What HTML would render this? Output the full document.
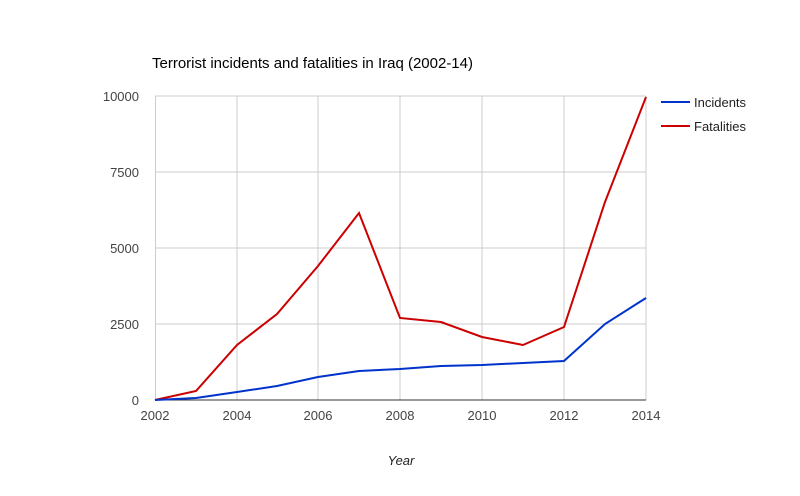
<!DOCTYPE html>
<html><head><meta charset="utf-8"><style>
html,body{margin:0;padding:0;background:#fff;}
svg{display:block;}
text{font-family:"Liberation Sans",Arial,sans-serif;}
</style></head><body>
<svg width="800" height="496" viewBox="0 0 800 496" xmlns="http://www.w3.org/2000/svg">
<rect width="800" height="496" fill="#fff"/>
<text x="152" y="68" font-size="15" fill="#000">Terrorist incidents and fatalities in Iraq (2002-14)</text>
<g stroke="#cccccc" stroke-width="1">
<line x1="155" y1="96" x2="646" y2="96"/>
<line x1="155" y1="172" x2="646" y2="172"/>
<line x1="155" y1="248" x2="646" y2="248"/>
<line x1="155" y1="324" x2="646" y2="324"/>
<line x1="155.5" y1="96" x2="155.5" y2="400"/>
<line x1="237" y1="96" x2="237" y2="400"/>
<line x1="318" y1="96" x2="318" y2="400"/>
<line x1="400" y1="96" x2="400" y2="400"/>
<line x1="482" y1="96" x2="482" y2="400"/>
<line x1="564" y1="96" x2="564" y2="400"/>
<line x1="646" y1="96" x2="646" y2="400"/>
</g>
<line x1="155" y1="400" x2="646" y2="400" stroke="#333" stroke-width="1"/>
<g font-size="13" fill="#444" text-anchor="end">
<text x="139" y="101">10000</text>
<text x="139" y="177">7500</text>
<text x="139" y="253">5000</text>
<text x="139" y="329">2500</text>
<text x="139" y="405">0</text>
</g>
<g font-size="13" fill="#444" text-anchor="middle">
<text x="155" y="420">2002</text>
<text x="237" y="420">2004</text>
<text x="318" y="420">2006</text>
<text x="400" y="420">2008</text>
<text x="482" y="420">2010</text>
<text x="564" y="420">2012</text>
<text x="646" y="420">2014</text>
</g>
<text x="401" y="465" font-size="13" font-style="italic" fill="#222" text-anchor="middle">Year</text>
<polyline fill="none" stroke="#cc0000" stroke-width="2" points="155,400 196,391 237,345 277,314 318,266 359,213 400,318 441,322 482,337 523,345 564,327 605,202 646,97"/>
<polyline fill="none" stroke="#0033cc" stroke-width="2" points="155,400 196,398 237,392 277,386 318,377 359,371 400,369 441,366 482,365 523,363 564,361 605,324 646,298"/>
<line x1="661" y1="102" x2="690" y2="102" stroke="#0033cc" stroke-width="2"/>
<text x="694" y="107" font-size="13" fill="#222">Incidents</text>
<line x1="661" y1="126" x2="690" y2="126" stroke="#cc0000" stroke-width="2"/>
<text x="694" y="131" font-size="13" fill="#222">Fatalities</text>
</svg>
</body></html>
